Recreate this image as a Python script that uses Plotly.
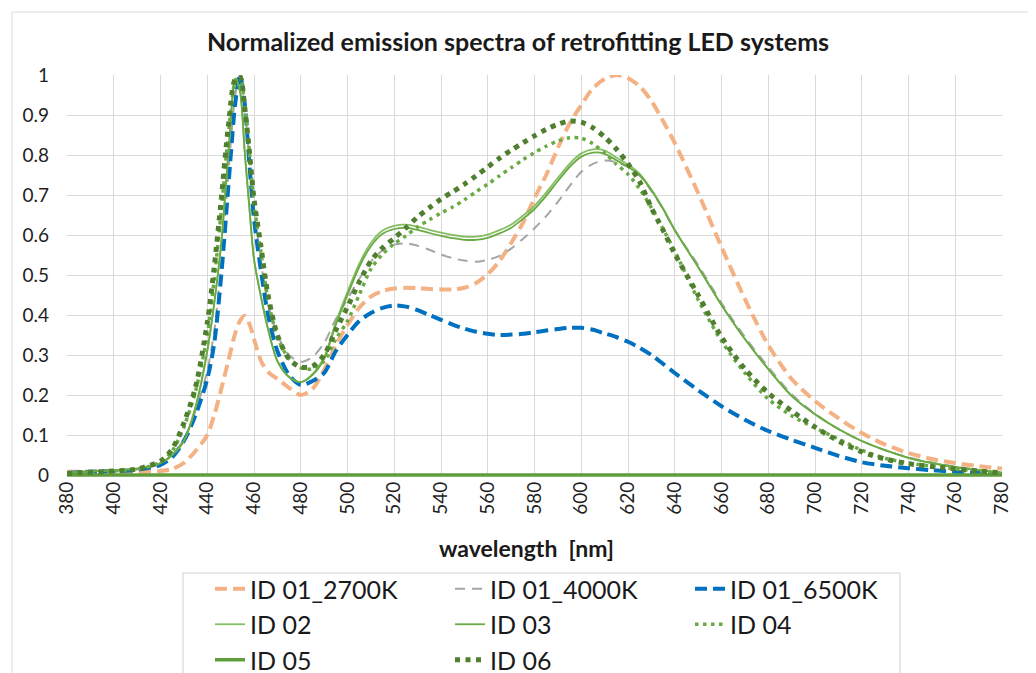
import plotly.graph_objects as go

# ---------------- data ----------------
wavelength = [380, 390, 400, 410, 420, 425, 430, 435, 440,
              443, 446, 449, 452, 454, 456, 458, 460,
              463, 466, 470, 475, 480,
              485, 490, 495, 500, 505, 510, 515, 520, 525, 530, 535, 540, 545, 550, 555, 560,
              565, 570, 575, 580, 585, 590, 595, 600, 605, 610, 615, 620, 625, 630, 635, 640,
              650, 660, 670, 680, 690, 700, 710, 720, 730, 740, 750, 760, 770, 780]

id01_2700K = [0.008, 0.008, 0.008, 0.008, 0.010, 0.015, 0.030, 0.060, 0.100,
              0.150, 0.215, 0.285, 0.355, 0.385, 0.398, 0.378, 0.340,
              0.285, 0.258, 0.240, 0.218, 0.200,
              0.215, 0.262, 0.325, 0.375, 0.418, 0.446, 0.460, 0.466, 0.468, 0.467, 0.465, 0.464, 0.464, 0.468, 0.480, 0.502,
              0.535, 0.580, 0.630, 0.692, 0.750, 0.818, 0.878, 0.925, 0.967, 0.990, 1.000, 0.992, 0.972, 0.935, 0.885, 0.830,
              0.705, 0.570, 0.440, 0.325, 0.240, 0.185, 0.142, 0.105, 0.076, 0.055, 0.040, 0.030, 0.022, 0.016]

id01_4000K = [0.005, 0.008, 0.010, 0.014, 0.028, 0.050, 0.090, 0.160, 0.260,
              0.360, 0.530, 0.750, 0.950, 1.000, 0.920, 0.790, 0.660,
              0.530, 0.430, 0.350, 0.300, 0.283,
              0.295, 0.330, 0.390, 0.440, 0.490, 0.533, 0.562, 0.576, 0.579, 0.573, 0.563, 0.551, 0.542, 0.536, 0.533, 0.538,
              0.548, 0.566, 0.590, 0.617, 0.647, 0.683, 0.722, 0.758, 0.778, 0.786, 0.782, 0.770, 0.748, 0.710, 0.665, 0.612,
              0.525, 0.430, 0.345, 0.270, 0.202, 0.153, 0.115, 0.085, 0.062, 0.044, 0.031, 0.021, 0.013, 0.006]

id01_6500K = [0.005, 0.008, 0.010, 0.013, 0.025, 0.045, 0.085, 0.150, 0.240,
              0.330, 0.500, 0.720, 0.930, 1.000, 0.930, 0.780, 0.640,
              0.510, 0.400, 0.310, 0.250, 0.225,
              0.235, 0.255, 0.310, 0.350, 0.385, 0.405, 0.418, 0.424, 0.421, 0.412, 0.400, 0.388, 0.376, 0.366, 0.358, 0.353,
              0.350, 0.351, 0.353, 0.357, 0.361, 0.365, 0.368, 0.368, 0.363, 0.354, 0.345, 0.333, 0.318, 0.300, 0.278, 0.255,
              0.212, 0.172, 0.138, 0.110, 0.088, 0.068, 0.048, 0.032, 0.023, 0.017, 0.012, 0.008, 0.005, 0.002]

id02 = [0.006, 0.009, 0.012, 0.016, 0.030, 0.050, 0.085, 0.170, 0.310,
        0.430, 0.580, 0.800, 0.990, 0.960, 0.810, 0.670, 0.540,
        0.445, 0.365, 0.285, 0.245, 0.232,
        0.252, 0.295, 0.382, 0.458, 0.528, 0.580, 0.611, 0.623, 0.626, 0.621, 0.613, 0.606, 0.600, 0.596, 0.596, 0.601,
        0.612, 0.626, 0.648, 0.673, 0.706, 0.743, 0.778, 0.804, 0.814, 0.811, 0.794, 0.776, 0.753, 0.714, 0.667, 0.613,
        0.520, 0.425, 0.340, 0.265, 0.198, 0.152, 0.115, 0.085, 0.062, 0.043, 0.030, 0.020, 0.012, 0.005]

id03 = [0.006, 0.009, 0.012, 0.016, 0.030, 0.050, 0.085, 0.170, 0.310,
        0.430, 0.580, 0.800, 0.990, 0.960, 0.810, 0.670, 0.540,
        0.445, 0.365, 0.285, 0.245, 0.232,
        0.250, 0.290, 0.375, 0.450, 0.520, 0.572, 0.603, 0.615, 0.618, 0.613, 0.605, 0.598, 0.592, 0.588, 0.588, 0.593,
        0.604, 0.618, 0.640, 0.665, 0.698, 0.735, 0.770, 0.796, 0.806, 0.803, 0.787, 0.770, 0.750, 0.712, 0.665, 0.612,
        0.520, 0.425, 0.340, 0.265, 0.198, 0.152, 0.115, 0.085, 0.062, 0.043, 0.030, 0.020, 0.012, 0.005]

id04 = [0.004, 0.007, 0.010, 0.014, 0.032, 0.060, 0.120, 0.210, 0.350,
        0.490, 0.660, 0.850, 0.985, 1.000, 0.930, 0.810, 0.680,
        0.555, 0.440, 0.345, 0.290, 0.268,
        0.265, 0.285, 0.340, 0.385, 0.450, 0.515, 0.552, 0.578, 0.598, 0.620, 0.638, 0.655, 0.670, 0.688, 0.708, 0.727,
        0.748, 0.768, 0.788, 0.806, 0.822, 0.835, 0.843, 0.842, 0.828, 0.805, 0.777, 0.752, 0.715, 0.668, 0.615, 0.560,
        0.438, 0.335, 0.255, 0.190, 0.148, 0.118, 0.090, 0.062, 0.042, 0.030, 0.022, 0.015, 0.010, 0.005]

id05 = [0, 0, 0, 0, 0, 0, 0, 0, 0,
        0, 0, 0, 0, 0, 0, 0, 0,
        0, 0, 0, 0, 0,
        0, 0, 0, 0, 0, 0, 0, 0, 0, 0, 0, 0, 0, 0, 0, 0,
        0, 0, 0, 0, 0, 0, 0, 0, 0, 0, 0, 0, 0, 0, 0, 0,
        0, 0, 0, 0, 0, 0, 0, 0, 0, 0, 0, 0, 0, 0]

id06 = [0.004, 0.007, 0.010, 0.015, 0.035, 0.065, 0.130, 0.220, 0.380,
        0.520, 0.690, 0.870, 0.990, 0.995, 0.920, 0.810, 0.690,
        0.570, 0.450, 0.350, 0.290, 0.270,
        0.272, 0.300, 0.362, 0.420, 0.482, 0.535, 0.568, 0.592, 0.618, 0.645, 0.668, 0.690, 0.708, 0.727, 0.748, 0.770,
        0.792, 0.812, 0.830, 0.848, 0.864, 0.877, 0.885, 0.882, 0.868, 0.845, 0.815, 0.778, 0.733, 0.668, 0.612, 0.553,
        0.450, 0.345, 0.265, 0.205, 0.160, 0.120, 0.085, 0.058, 0.040, 0.028, 0.021, 0.015, 0.010, 0.005]

series_names = ["ID 01_2700K", "ID 01_4000K", "ID 01_6500K", "ID 02", "ID 03", "ID 04", "ID 05", "ID 06"]
series_values = [id01_2700K, id01_4000K, id01_6500K, id02, id03, id04, id05, id06]
x_ticks = list(range(380, 781, 20))
y_ticks = [0, 0.1, 0.2, 0.3, 0.4, 0.5, 0.6, 0.7, 0.8, 0.9, 1]
y_ticktext = ["0", "0.1", "0.2", "0.3", "0.4", "0.5", "0.6", "0.7", "0.8", "0.9", "1"]

# ---------------- styles ----------------
styles = [
    dict(color="#F4B183", width=4, dash="12px,6px"),
    dict(color="#A5A5A5", width=2, dash="10px,7px"),
    dict(color="#0070C0", width=4, dash="12px,6px"),
    dict(color="#86BF63", width=1.8, dash="solid"),
    dict(color="#6AAA44", width=1.8, dash="solid"),
    dict(color="#6AAA44", width=3.5, dash="3.5px,4.5px"),
    dict(color="#5E9C3C", width=3.5, dash="solid"),
    dict(color="#4F7F2F", width=5, dash="5px,5.5px"),
]

FONT = "Lato, 'Open Sans', sans-serif"

fig = go.Figure()
for name, vals, st in zip(series_names, series_values, styles):
    fig.add_trace(go.Scatter(
        x=wavelength, y=vals, name=name, mode="lines",
        line=dict(color=st["color"], width=st["width"], dash=st["dash"],
                  shape="spline", smoothing=0.8),
        hoverinfo="x+y+name",
    ))

# page body has an 8px margin: figure starts at (8, 8)
OFF = 8
W, H = 1028, 665
PL, PT, PR, PB = 67, 75, 1002, 477   # plot area in page pixels
L, T = PL - OFF, PT - OFF
R = W - (PR - OFF)
B = H - (PB - OFF)
pw, ph = PR - PL, PB - PT


def px_x(px):
    return (px - PL) / pw


def px_y(py):
    return (PB - py) / ph


fig.update_layout(
    width=W, height=H,
    margin=dict(l=L, r=R, t=T, b=B, autoexpand=False),
    paper_bgcolor="white", plot_bgcolor="white",
    font=dict(family=FONT, color="#1f1f1f"),
    title=dict(text="<b>Normalized emission spectra of retrofitting LED systems</b>",
               x=px_x(518), xanchor="center", xref="paper", y=1 - (42 - OFF) / H, yanchor="middle",
               yref="container",
               font=dict(size=25, family=FONT, color="#1a1a1a")),
    xaxis=dict(range=[380, 780], tickmode="array", tickvals=x_ticks,
               ticktext=[str(v) for v in x_ticks], tickangle=-90,
               showgrid=True, gridcolor="#d9d9d9", gridwidth=1,
               zeroline=False, showline=False, ticks="",
               tickfont=dict(size=19, family=FONT, color="#1f1f1f")),
    yaxis=dict(range=[-0.005, 1.0], tickmode="array",
               tickvals=y_ticks, ticktext=y_ticktext,
               showgrid=True, gridcolor="#d9d9d9", gridwidth=1,
               zeroline=False, showline=False, ticks="", ticklabelstandoff=17,
               tickfont=dict(size=19, family=FONT, color="#1f1f1f")),
    legend=dict(orientation="h", x=px_x(210), xanchor="left", y=px_y(566), yanchor="top",
                entrywidth=195, entrywidthmode="pixels",
                font=dict(size=25, family=FONT, color="#1a1a1a"),
                bgcolor="rgba(0,0,0,0)", borderwidth=0, traceorder="normal"),
    showlegend=True,
    annotations=[dict(text="<b>wavelength\u00a0 [nm]</b>", x=px_x(526), y=px_y(548),
                      xref="paper", yref="paper", xanchor="center", yanchor="middle",
                      showarrow=False, font=dict(size=23, family=FONT, color="#1a1a1a"))],
    shapes=[
        dict(type="rect", xref="paper", yref="paper", x0=px_x(12), x1=px_x(1030),
             y0=px_y(700), y1=px_y(12), line=dict(color="#d9d9d9", width=1), layer="below"),
        dict(type="rect", xref="paper", yref="paper", x0=px_x(183), x1=px_x(900),
             y0=px_y(700), y1=px_y(573), line=dict(color="#d0d0d0", width=1), layer="below"),
    ],
)

fig.write_html("out.html")
